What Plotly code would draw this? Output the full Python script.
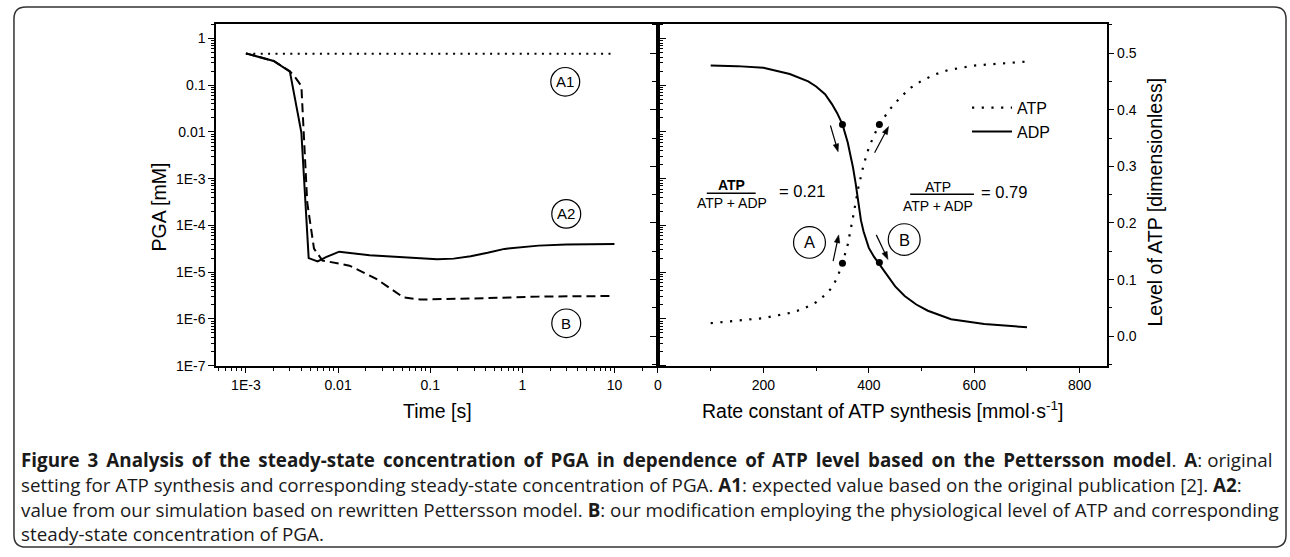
import math
import plotly.graph_objects as go

W, H = 1290, 557

# ---------------- data: left panel (PGA vs time) ----------------
t_a1 = [0.001, 10]
pga_a1 = [0.47, 0.47]

t_a2 = [0.001, 0.002, 0.003, 0.004, 0.0048, 0.006, 0.0074, 0.0103, 0.022, 0.05,
        0.119, 0.18, 0.275, 0.42, 0.64, 1.5, 3, 10]
pga_a2 = [0.48, 0.33, 0.195, 0.0097, 2.0e-5, 1.7e-5, 2.1e-5, 2.75e-5, 2.3e-5, 2.1e-5,
          1.9e-5, 1.95e-5, 2.2e-5, 2.6e-5, 3.15e-5, 3.7e-5, 3.9e-5, 4.0e-5]

t_b = [0.001, 0.002, 0.003, 0.00345, 0.004, 0.00426, 0.00463, 0.00548, 0.00677,
       0.0133, 0.026, 0.051, 0.078, 0.275, 1.49, 10]
pga_b = [0.48, 0.33, 0.2, 0.145, 0.096, 0.0083, 3.1e-4, 3.2e-5, 1.78e-5,
         1.38e-5, 7.2e-6, 2.9e-6, 2.6e-6, 2.73e-6, 3.0e-6, 3.1e-6]

left_x_tickvals = [0.001, 0.01, 0.1, 1, 10]
left_x_ticktext = ["1E-3", "0.01", "0.1", "1", "10"]
left_y_tickvals = [1, 0.1, 0.01, 1e-3, 1e-4, 1e-5, 1e-6, 1e-7]
left_y_ticktext = ["1", "0.1", "0.01", "1E-3", "1E-4", "1E-5", "1E-6", "1E-7"]

# ---------------- data: right panel (ATP / ADP level) ----------------
k_atp = [100, 150, 200, 250, 275, 300, 320, 330, 340, 350, 360, 370, 380, 390, 400,
         410, 420, 440, 460, 480, 500, 525, 550, 600, 650, 700]
atp = [0.023, 0.027, 0.032, 0.041, 0.048, 0.060, 0.075, 0.086, 0.103, 0.129, 0.162,
       0.210, 0.262, 0.302, 0.333, 0.355, 0.374, 0.401, 0.422, 0.439, 0.451, 0.462,
       0.470, 0.478, 0.482, 0.485]

k_adp = [100, 150, 200, 250, 285, 300, 317, 330, 340, 350, 360, 365, 370, 375, 380,
         385, 390, 400, 410, 420, 437, 450, 468, 490, 512, 556, 619, 700]
adp = [0.478, 0.477, 0.474, 0.463, 0.450, 0.441, 0.4275, 0.410, 0.394, 0.374, 0.342,
       0.322, 0.298, 0.270, 0.233, 0.205, 0.185, 0.156, 0.140, 0.127, 0.103, 0.088,
       0.071, 0.056, 0.045, 0.030, 0.0217, 0.0158]

mark_k = [350, 420, 350, 420]
mark_v = [0.374, 0.130, 0.129, 0.374]

FONT = "Liberation Sans"
CAP_FONT = "Open Sans"


def px(x):
    return x / W


def py(y):
    return 1 - y / H


L_DOM = [px(212.8), px(656)]
R_DOM = [px(656), px(1106)]
Y_DOM = [py(371), py(24)]

fig = go.Figure()

fig.add_trace(go.Scatter(x=t_a1, y=pga_a1, mode="lines", xaxis="x", yaxis="y",
                         line=dict(color="black", width=2, dash="2px,5.4px"),
                         showlegend=False, name="A1"))
fig.add_trace(go.Scatter(x=t_a2, y=pga_a2, mode="lines", xaxis="x", yaxis="y",
                         line=dict(color="black", width=2),
                         showlegend=False, name="A2"))
fig.add_trace(go.Scatter(x=t_b, y=pga_b, mode="lines", xaxis="x", yaxis="y",
                         line=dict(color="black", width=2, dash="9px,5px"),
                         showlegend=False, name="B"))

fig.add_trace(go.Scatter(x=k_atp, y=atp, mode="lines", xaxis="x2", yaxis="y2",
                         line=dict(color="black", width=2.2, dash="2.2px,7.5px"),
                         name="ATP"))
fig.add_trace(go.Scatter(x=k_adp, y=adp, mode="lines", xaxis="x2", yaxis="y2",
                         line=dict(color="black", width=2),
                         name="ADP"))
fig.add_trace(go.Scatter(x=mark_k, y=mark_v, mode="markers", xaxis="x2", yaxis="y2",
                         marker=dict(color="black", size=7),
                         showlegend=False, name="points"))

tickfont = dict(family=FONT, size=14, color="black")
common = dict(showline=True, linecolor="black", linewidth=1.5, showgrid=False,
              zeroline=False, ticks="outside", tickcolor="black", tickwidth=1.2,
              ticklen=6, tickfont=tickfont)

minor_x_vals = [m * 10 ** e for e in range(-4, 2) for m in range(2, 10)]
minor_y_vals = [m * 10 ** e for e in range(-7, 1) for m in range(2, 10)]

fig.update_layout(
    width=W, height=H,
    margin=dict(l=0, r=0, t=0, b=0),
    paper_bgcolor="white", plot_bgcolor="white",
    xaxis=dict(type="log", domain=L_DOM, range=[-3.323, 1.472], anchor="y",
               tickmode="array", tickvals=left_x_tickvals, ticktext=left_x_ticktext,
               mirror=True,
               minor=dict(tickmode="array", tickvals=minor_x_vals, ticks="outside",
                          ticklen=3.5, tickwidth=1, tickcolor="black"),
               **common),
    yaxis=dict(type="log", domain=Y_DOM, range=[-7, 0.317], anchor="x",
               tickmode="array", tickvals=left_y_tickvals, ticktext=left_y_ticktext,
               mirror="allticks",
               minor=dict(tickmode="array", tickvals=minor_y_vals, ticks="outside",
                          ticklen=3.5, tickwidth=1, tickcolor="black"),
               **common),
    xaxis2=dict(domain=R_DOM, range=[0, 851], anchor="y2",
                tick0=0, dtick=200, mirror=True,
                minor=dict(dtick=100, ticks="outside", ticklen=4, tickwidth=1.2,
                           tickcolor="black"),
                **common),
    yaxis2=dict(domain=Y_DOM, range=[-0.052, 0.552], anchor="x2", side="right",
                tick0=0, dtick=0.1, tickformat=".1f", mirror="allticks",
                minor=dict(dtick=0.05, ticks="outside", ticklen=4, tickwidth=1.2,
                           tickcolor="black"),
                **common),
    legend=dict(x=px(966), y=py(92), xanchor="left", yanchor="top",
                bgcolor="rgba(0,0,0,0)", borderwidth=0,
                font=dict(family=FONT, size=16, color="black"),
                tracegroupgap=0, itemwidth=40),
    showlegend=True,
)

annotations = []
shapes = []


def text(x, y, s, size, angle=0, xanchor="center", family=FONT, color="black"):
    annotations.append(dict(x=px(x), y=py(y), xref="paper", yref="paper", text=s,
                            showarrow=False, xanchor=xanchor, yanchor="middle",
                            textangle=angle,
                            font=dict(family=family, size=size, color=color)))


# axis titles
text(155, 210, "PGA [mM]", 19.5, angle=-90)
text(435, 417, "Time [s]", 19.5)
text(881, 416, "Rate constant of ATP synthesis [mmol·s<sup>-1</sup>]", 19.5)
text(1155, 205, "Level of ATP [dimensionless]", 19.5, angle=-90)

# circled labels
for (cx, cy, r, lab, fs) in [(563, 83, 14.5, "A1", 15), (564, 217, 14.5, "A2", 15),
                             (564, 328, 14.5, "B", 15), (808, 246, 16, "A", 16.5),
                             (903, 243, 16, "B", 16.5)]:
    shapes.append(dict(type="circle", xref="paper", yref="paper",
                       x0=px(cx - r), x1=px(cx + r), y0=py(cy + r), y1=py(cy - r),
                       line=dict(color="black", width=1.2)))
    text(cx, cy, lab, fs)

# fractions
text(730, 188, "<b>ATP</b>", 14)
text(730, 206, "ATP + ADP", 14)
shapes.append(dict(type="line", xref="paper", yref="paper", x0=px(705), x1=px(754),
                   y0=py(196), y1=py(196), line=dict(color="black", width=1.5)))
text(800, 194, "= 0.21", 16.5)
text(937, 190, "ATP", 14)
text(937, 209, "ATP + ADP", 14)
shapes.append(dict(type="line", xref="paper", yref="paper", x0=px(909), x1=px(973),
                   y0=py(197), y1=py(197), line=dict(color="black", width=1.5)))
text(1003, 195, "= 0.79", 16.5)

# arrows drawn as shapes (tail -> head, in pixels)
for (tx, ty, hx, hy) in [(829, 127.3, 836.7, 154), (873.3, 155, 887.3, 128.3),
                         (831.7, 265, 837.3, 238.3), (875, 238.3, 886.7, 263.3)]:
    dx, dy = hx - tx, hy - ty
    n = math.hypot(dx, dy)
    ux, uy = dx / n, dy / n
    hl, hw = 8.0, 2.8
    bx, by = hx - hl * ux, hy - hl * uy
    shapes.append(dict(type="line", xref="paper", yref="paper",
                       x0=px(tx), y0=py(ty), x1=px(bx + ux), y1=py(by + uy),
                       line=dict(color="black", width=1.2)))
    p1 = (bx - hw * uy, by + hw * ux)
    p2 = (bx + hw * uy, by - hw * ux)
    tri = (f"M{px(hx):.5f},{py(hy):.5f} L{px(p1[0]):.5f},{py(p1[1]):.5f} "
           f"L{px(p2[0]):.5f},{py(p2[1]):.5f} Z")
    shapes.append(dict(type="path", xref="paper", yref="paper", path=tri,
                       fillcolor="black", line=dict(color="black", width=0.5)))

# caption (first line is justified in the reference: add a thin space per gap)
TS = "\u2009"
cap_lines = [
    ("<b>Figure 3 Analysis of the steady-state concentration of PGA in dependence of "
     "ATP level based on the Pettersson model</b>. <b>A</b>: original").replace(" ", " " + TS),
    "setting for ATP synthesis and corresponding steady-state concentration of PGA. "
    "<b>A1</b>: expected value based on the original publication [2]. <b>A2</b>:",
    "value from our simulation based on rewritten Pettersson model. <b>B</b>: our "
    "modification employing the physiological level of ATP and corresponding",
    "steady-state concentration of PGA.",
]
cap_lines[0] = cap_lines[0].replace("<b>A</b>:" + " " + TS, "<b>A</b>: ")
cap_lines[0] = cap_lines[0].replace("." + " " + TS + "<b>A", ". " + TS + "<b>A")
for i, s in enumerate(cap_lines):
    text(15, 467 + 25.0 * i, s, 18.8, xanchor="left", family=CAP_FONT, color="#1a1a1a")

# rounded figure border
r = 12
x0b, y0b, x1b, y1b = 10, 7, 1286, 555


def P(x, y):
    return f"{px(x):.5f},{py(y):.5f}"


path = (f"M{P(x0b + r, y0b)} L{P(x1b - r, y0b)} Q{P(x1b, y0b)} {P(x1b, y0b + r)} "
        f"L{P(x1b, y1b - r)} Q{P(x1b, y1b)} {P(x1b - r, y1b)} "
        f"L{P(x0b + r, y1b)} Q{P(x0b, y1b)} {P(x0b, y1b - r)} "
        f"L{P(x0b, y0b + r)} Q{P(x0b, y0b)} {P(x0b + r, y0b)} Z")
shapes.append(dict(type="path", xref="paper", yref="paper", path=path,
                   line=dict(color="#333333", width=1.5)))

fig.update_layout(annotations=annotations, shapes=shapes)

fig.write_html(
    "out.html",
    config={"displayModeBar": False},
    post_script=("document.body.style.margin='0';"
                 "document.body.style.overflow='hidden';"
                 "document.documentElement.style.overflow='hidden';"),
)
